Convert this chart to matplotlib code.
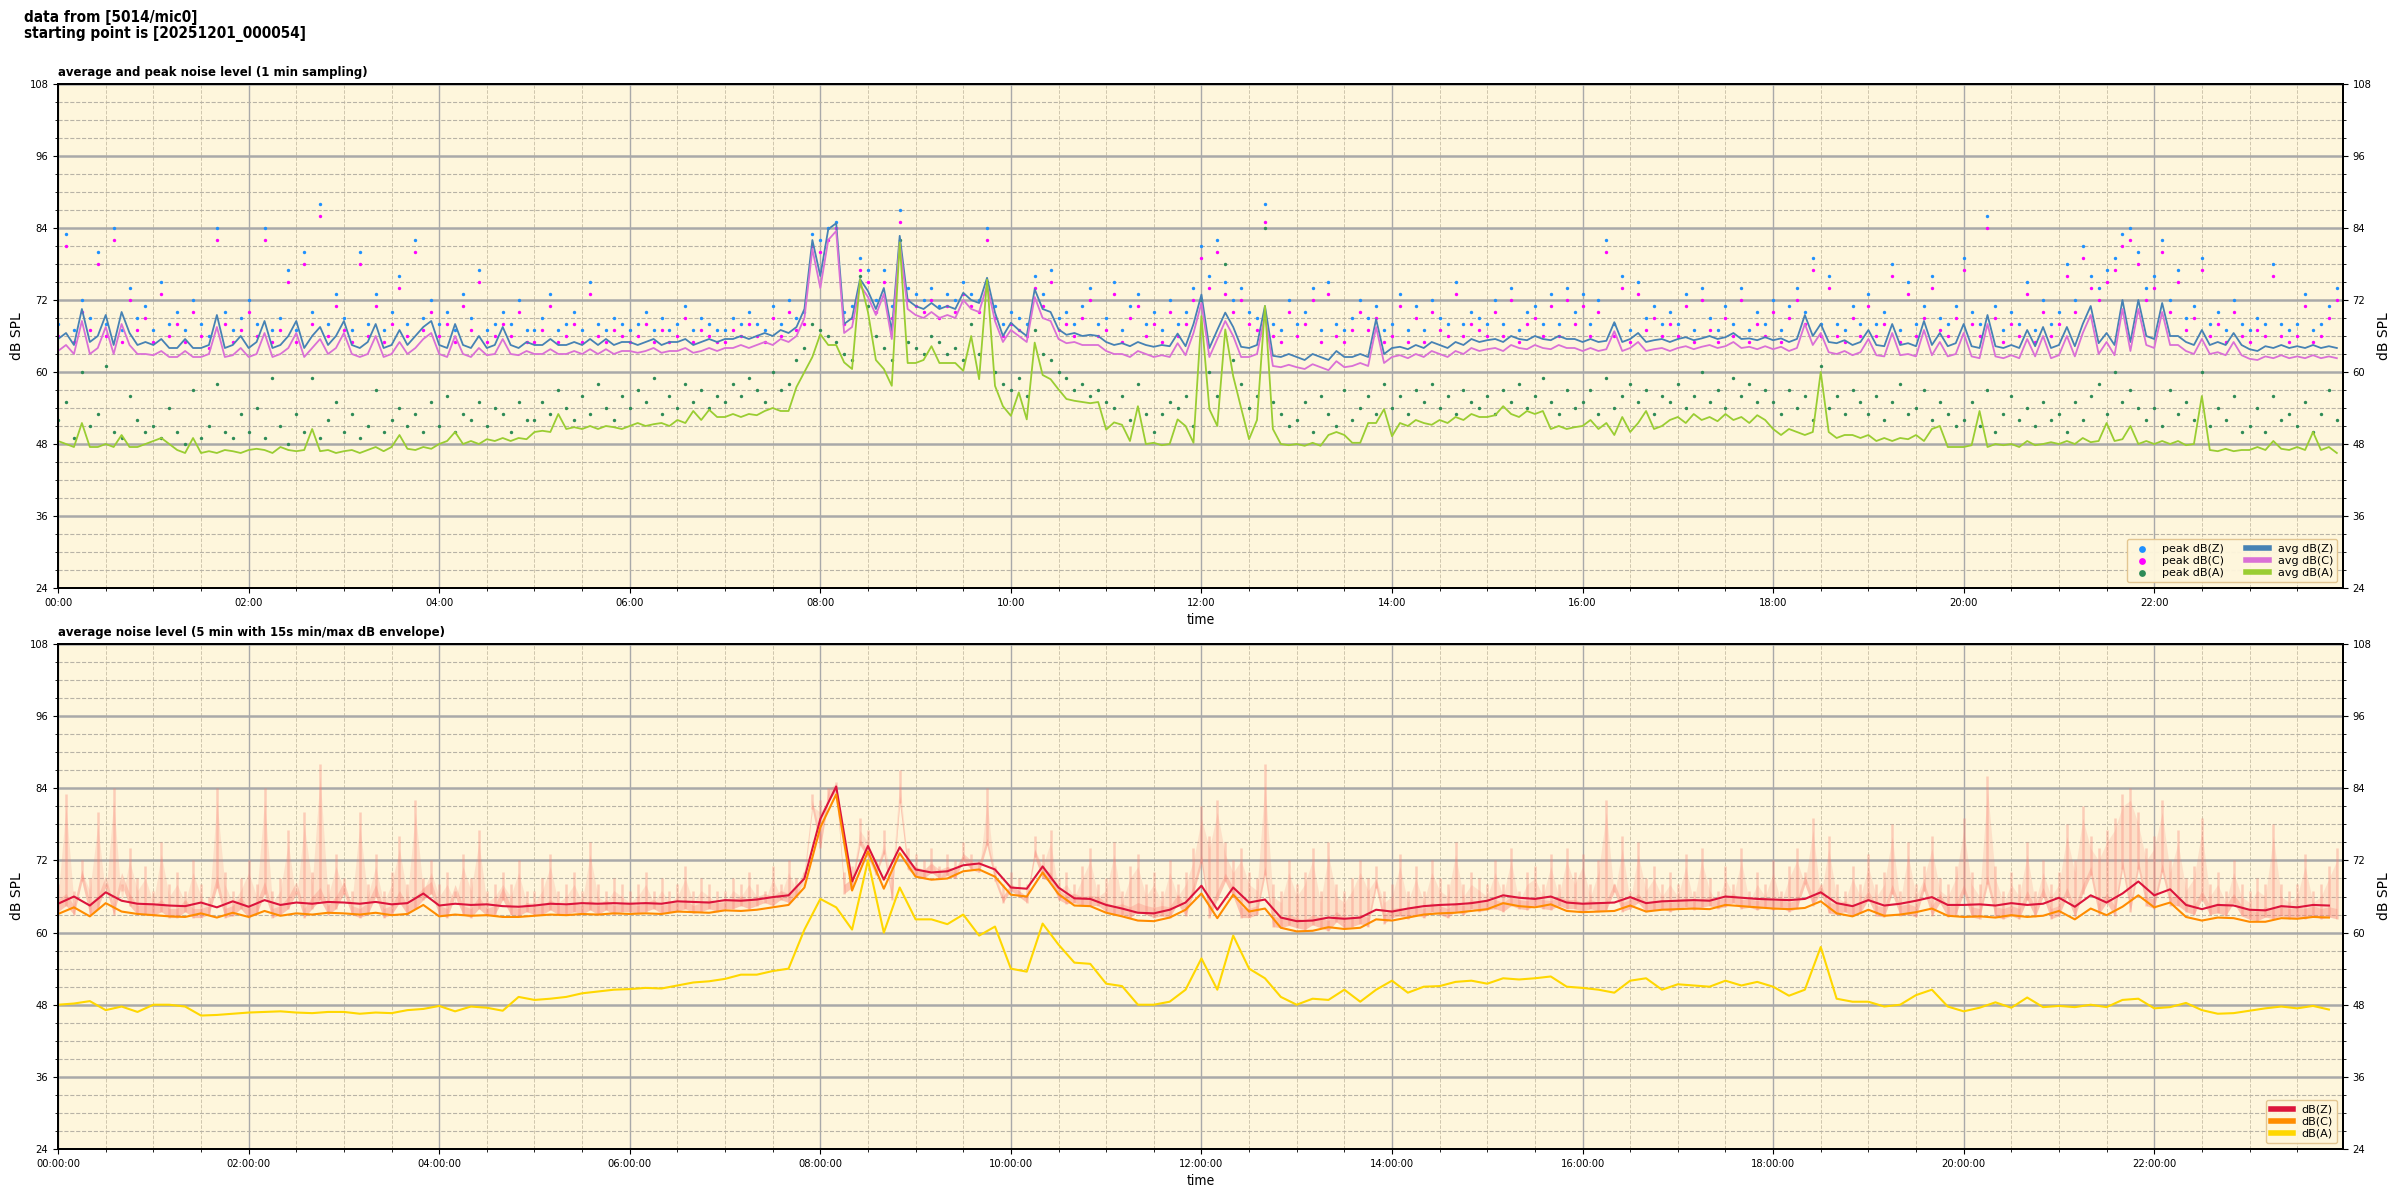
import numpy as np
import matplotlib
matplotlib.use("Agg")
import matplotlib.pyplot as plt
from matplotlib import font_manager as fm
from matplotlib.ticker import MultipleLocator, FuncFormatter

# narrow face for titles and ticks: use whatever narrow font is installed
_fonts = fm.fontManager.ttflist
if any(f.name == "DejaVu Sans" and f.stretch == "condensed" for f in _fonts):
    plt.rcParams["font.family"] = ["DejaVu Sans"]
    plt.rcParams["font.stretch"] = "condensed"
    SUPTITLE_SIZE, TITLE_SIZE = 11.0, 9.4
elif any(f.name == "Liberation Sans Narrow" for f in _fonts):
    plt.rcParams["font.family"] = ["Liberation Sans Narrow", "DejaVu Sans"]
    SUPTITLE_SIZE, TITLE_SIZE = 12.0, 10.0
else:
    plt.rcParams["font.family"] = ["Liberation Sans", "DejaVu Sans"]
    SUPTITLE_SIZE, TITLE_SIZE = 10.0, 8.5

# --- top panel, values read every 5 min (one row per hour) ---
avg_z = [
    65.5, 66.5, 64.5, 70.5, 65.0, 66.0, 69.5, 64.5, 70.0, 66.5, 64.5, 65.0,
    64.5, 65.5, 64.0, 64.0, 65.5, 64.0, 64.0, 64.5, 69.5, 64.0, 64.5, 66.0,
    64.0, 65.0, 68.5, 64.0, 64.5, 66.0, 68.5, 64.0, 66.0, 67.5, 64.5, 66.0,
    68.5, 64.5, 64.0, 65.0, 68.0, 64.0, 64.5, 67.0, 64.5, 66.0, 67.5, 68.5,
    64.5, 64.0, 68.0, 64.5, 64.0, 66.0, 64.0, 64.5, 67.5, 64.5, 64.0, 65.0,
    64.5, 64.5, 65.5, 64.5, 64.5, 65.0, 64.5, 65.5, 64.5, 65.5, 64.5, 65.0,
    65.0, 64.5, 65.0, 65.5, 64.5, 65.0, 65.0, 65.5, 64.5, 65.0, 65.5, 65.0,
    65.5, 65.5, 66.0, 65.5, 66.0, 66.5, 66.0, 67.0, 66.5, 67.5, 70.5, 82.0,
    76.0, 83.8, 84.8, 68.0, 69.0, 75.5, 73.5, 70.5, 74.0, 66.8, 82.7, 72.0,
    71.0, 70.5, 71.5, 70.5, 71.0, 70.5, 73.2, 72.0, 71.5, 75.7, 69.9, 66.0,
    68.2, 67.0, 66.0, 73.8, 70.5, 70.0, 67.1, 66.2, 66.5, 66.0, 66.2, 66.0,
    65.0, 64.5, 64.8, 64.3, 65.0, 64.5, 64.2, 64.5, 64.3, 66.4, 64.3, 68.0,
    72.9, 64.0, 67.0, 69.9, 67.5, 64.2, 64.0, 64.5, 71.0, 62.7, 62.5, 63.0,
    62.5, 62.0, 63.0, 62.5, 62.0, 63.5, 62.5, 62.5, 63.0, 62.5, 68.8, 63.0,
    64.0, 64.2, 63.8, 64.5, 64.0, 65.0, 64.5, 64.0, 65.0, 64.5, 65.5, 65.0,
    65.3, 65.5, 65.0, 66.0, 65.5, 65.3, 66.0, 65.5, 65.3, 66.0, 65.5, 65.5,
    65.0, 65.5, 65.0, 65.2, 68.3, 65.0, 65.5, 66.5, 65.0, 65.3, 65.5, 65.0,
    65.5, 65.8, 65.3, 65.6, 66.0, 65.5, 65.8, 66.5, 65.5, 65.6, 65.3, 65.8,
    65.3, 65.6, 65.0, 65.5, 69.5, 66.0, 68.0, 65.0, 64.8, 65.3, 64.5, 65.0,
    67.0, 64.5, 64.3, 68.0, 64.5, 64.8, 64.3, 68.5, 64.5, 66.5, 64.3, 64.8,
    68.0, 64.3, 64.0, 69.5, 64.3, 64.0, 64.5, 64.0, 67.0, 64.3, 67.5, 64.0,
    64.5, 67.5, 64.3, 68.0, 71.0, 64.8, 66.5, 64.5, 72.0, 65.0, 72.0, 66.0,
    65.5, 71.5, 66.0, 66.0, 65.0, 64.5, 67.0, 64.5, 65.0, 64.5, 66.5, 64.5,
    63.8, 63.5, 64.3, 64.0, 64.5, 64.0, 64.3, 64.0, 64.5, 64.0, 64.3, 64.0,
]
avg_c = [
    63.5, 64.5, 63.0, 68.5, 63.0, 64.0, 67.5, 63.0, 68.0, 64.5, 63.0, 63.0,
    62.8, 63.5, 62.5, 62.5, 63.5, 62.5, 62.5, 63.0, 67.5, 62.5, 62.8, 64.0,
    62.5, 63.0, 66.5, 62.5, 63.0, 64.0, 66.5, 62.5, 64.0, 65.5, 63.0, 64.0,
    66.5, 63.0, 62.5, 63.0, 66.0, 62.5, 63.0, 65.0, 63.0, 64.0, 65.5, 66.5,
    63.0, 62.5, 66.0, 63.0, 62.5, 64.0, 62.8, 63.0, 65.5, 63.0, 62.8, 63.5,
    63.0, 63.0, 63.8, 63.0, 63.0, 63.5, 63.0, 63.8, 63.0, 63.8, 63.0, 63.5,
    63.5, 63.2, 63.5, 64.0, 63.2, 63.5, 63.5, 64.0, 63.2, 63.5, 64.0, 63.5,
    64.0, 64.0, 64.5, 64.0, 64.5, 65.0, 64.5, 65.5, 65.0, 66.0, 69.0, 80.5,
    74.0, 82.0, 83.5, 66.5, 67.5, 74.5, 72.5, 69.5, 73.0, 65.5, 81.5, 70.5,
    69.5, 69.0, 70.0, 69.0, 69.5, 69.0, 72.0, 70.5, 70.0, 74.5, 68.5, 65.0,
    67.0, 66.0, 65.0, 72.5, 69.0, 68.5, 65.5, 64.8, 65.0, 64.5, 64.5, 64.5,
    63.5, 63.0, 63.0, 62.5, 63.5, 63.0, 62.5, 62.8, 62.5, 64.8, 62.8, 66.5,
    71.5, 62.5, 65.5, 68.5, 66.0, 62.5, 62.5, 63.0, 69.5, 61.0, 60.8, 61.2,
    60.8, 60.5, 61.3, 60.8, 60.3, 61.8, 60.8, 61.0, 61.5, 61.0, 67.5, 61.5,
    62.5, 62.8, 62.3, 63.0, 62.5, 63.5, 63.0, 62.5, 63.5, 63.0, 64.0, 63.5,
    63.8, 64.0, 63.5, 64.5, 64.0, 63.8, 64.5, 64.0, 63.8, 64.5, 64.0, 64.0,
    63.5, 64.0, 63.5, 63.8, 66.8, 63.5, 64.0, 65.0, 63.5, 63.8, 64.0, 63.5,
    64.0, 64.3, 63.8, 64.2, 64.5, 64.0, 64.3, 65.0, 64.0, 64.2, 63.8, 64.3,
    63.8, 64.2, 63.5, 64.0, 68.0, 64.5, 66.5, 63.3, 63.0, 63.5, 62.8, 63.3,
    65.5, 62.8, 62.6, 66.5, 62.8, 63.0, 62.6, 67.0, 62.8, 65.0, 62.6, 63.0,
    66.5, 62.6, 62.3, 68.0, 62.6, 62.3, 62.8, 62.3, 65.5, 62.6, 66.0, 62.3,
    62.8, 66.0, 62.6, 66.5, 69.5, 63.0, 65.0, 62.8, 70.5, 63.5, 70.5, 64.5,
    64.0, 70.0, 64.5, 64.5, 63.5, 63.0, 65.5, 63.0, 63.3, 62.8, 65.0, 62.8,
    62.2, 62.0, 62.6, 62.3, 62.8, 62.3, 62.6, 62.3, 62.8, 62.3, 62.6, 62.3,
]
avg_a = [
    48.5, 48.0, 47.5, 51.5, 47.5, 47.5, 48.0, 47.5, 49.5, 47.5, 47.5, 48.0,
    48.5, 49.0, 48.0, 47.0, 46.5, 49.0, 46.5, 46.8, 46.5, 47.0, 46.8, 46.5,
    47.0, 47.2, 47.0, 46.5, 47.5, 47.0, 46.8, 47.0, 50.5, 46.8, 47.0, 46.5,
    46.8, 47.0, 46.5, 47.0, 47.5, 46.8, 47.5, 49.5, 47.2, 47.0, 47.5, 47.2,
    48.0, 48.5, 50.0, 48.0, 48.5, 48.0, 48.8, 48.5, 49.0, 48.5, 49.0, 48.8,
    50.0, 50.2, 50.0, 53.0, 50.5, 50.8, 50.5, 51.0, 50.5, 51.0, 50.8, 50.5,
    51.0, 51.5, 51.0, 51.3, 51.5, 51.0, 52.0, 51.5, 53.5, 52.0, 53.7, 52.5,
    52.5, 53.0, 52.5, 53.0, 52.8, 53.5, 54.0, 53.5, 53.5, 57.5, 60.0, 62.5,
    66.3, 64.5, 64.5, 61.6, 60.5, 75.4, 70.0, 62.0, 60.5, 57.7, 81.6, 61.5,
    61.5, 62.0, 64.3, 61.5, 61.5, 61.5, 60.2, 66.0, 58.8, 75.4, 57.7, 54.3,
    52.7, 56.6, 52.1, 64.9, 59.5, 58.8, 57.1, 55.5, 55.2, 55.0, 54.8, 55.0,
    50.4, 51.6, 51.2, 48.5, 54.3, 48.0, 48.2, 47.8, 48.0, 52.1, 51.0, 48.2,
    69.3, 53.8, 51.0, 67.1, 59.3, 54.0, 48.8, 52.0, 71.0, 50.5, 48.0, 47.8,
    48.0, 47.7, 48.2, 47.7, 49.5, 50.0, 49.5, 48.2, 48.2, 51.5, 51.5, 53.8,
    49.3, 51.5, 51.0, 52.0, 51.5, 51.2, 52.0, 51.5, 52.5, 52.0, 53.0, 52.5,
    52.5, 52.8, 54.3, 53.0, 52.5, 53.5, 53.0, 53.5, 50.5, 51.0, 50.5, 50.8,
    51.0, 52.0, 50.5, 51.5, 49.5, 52.5, 50.0, 51.5, 53.5, 50.5, 51.0, 52.0,
    52.5, 51.5, 53.0, 52.0, 52.5, 51.8, 53.0, 52.0, 52.5, 51.5, 52.8, 52.0,
    50.5, 49.5, 50.5, 50.0, 49.5, 50.0, 60.0, 50.0, 49.0, 49.5, 49.5, 49.0,
    49.5, 48.5, 49.0, 48.5, 49.0, 48.8, 49.5, 48.5, 50.5, 51.0, 47.5, 47.5,
    47.5, 47.8, 53.5, 47.5, 48.0, 47.8, 48.0, 47.5, 48.5, 47.8, 48.0, 48.3,
    48.0, 48.5, 48.0, 49.0, 48.3, 48.5, 51.5, 48.5, 48.8, 51.0, 48.0, 48.5,
    48.0, 48.5, 48.0, 48.5, 47.8, 48.0, 56.0, 47.0, 46.8, 47.2, 46.8, 47.0,
    47.0, 47.5, 47.0, 48.5, 47.2, 47.0, 47.5, 47.0, 50.0, 47.0, 47.5, 46.5,
]
peak_z = [
    68, 83, 67, 72, 69, 80, 68, 84, 67, 74, 69, 71,
    67, 75, 68, 70, 67, 72, 68, 66, 84, 70, 67, 69,
    72, 68, 84, 67, 69, 77, 67, 80, 70, 88, 68, 73,
    69, 67, 80, 68, 73, 67, 70, 76, 68, 82, 69, 72,
    68, 70, 67, 73, 69, 77, 67, 68, 70, 68, 72, 67,
    67, 69, 73, 67, 68, 70, 67, 75, 68, 67, 69, 68,
    67, 68, 70, 67, 69, 67, 68, 71, 67, 69, 68, 67,
    67, 69, 68, 70, 68, 67, 71, 68, 72, 69, 70, 83,
    82, 84, 85, 70, 71, 79, 77, 72, 77, 71, 87, 74,
    73, 72, 74, 71, 73, 72, 75, 73, 72, 84, 71, 68,
    70, 69, 68, 76, 73, 77, 69, 70, 68, 71, 74, 68,
    69, 75, 67, 71, 73, 68, 70, 67, 72, 68, 70, 74,
    81, 76, 82, 75, 72, 74, 70, 69, 88, 68, 67, 72,
    68, 70, 74, 67, 75, 68, 67, 69, 72, 69, 71, 67,
    68, 73, 67, 71, 67, 72, 69, 68, 75, 68, 70, 69,
    68, 72, 68, 74, 67, 70, 71, 68, 73, 68, 74, 70,
    73, 68, 72, 82, 68, 76, 67, 75, 69, 71, 68, 70,
    68, 73, 67, 74, 69, 67, 71, 68, 74, 67, 70, 68,
    72, 67, 71, 74, 70, 79, 68, 76, 68, 67, 71, 68,
    73, 68, 70, 78, 67, 75, 68, 71, 76, 69, 68, 71,
    79, 70, 68, 86, 71, 67, 70, 68, 75, 67, 72, 68,
    70, 78, 72, 81, 76, 74, 77, 79, 83, 84, 80, 74,
    76, 82, 72, 77, 69, 71, 79, 68, 70, 67, 72, 68,
    67, 69, 68, 78, 68, 67, 68, 73, 67, 68, 71, 74,
]
peak_c = [
    66, 81, 65, 70, 67, 78, 66, 82, 65, 72, 67, 69,
    65, 73, 66, 68, 65, 70, 66, 64, 82, 68, 65, 67,
    70, 66, 82, 65, 67, 75, 65, 78, 68, 86, 66, 71,
    67, 65, 78, 66, 71, 65, 68, 74, 66, 80, 67, 70,
    66, 68, 65, 71, 67, 75, 65, 66, 68, 66, 70, 65,
    65, 67, 71, 65, 66, 68, 65, 73, 66, 65, 67, 66,
    65, 66, 68, 65, 67, 65, 66, 69, 65, 67, 66, 65,
    65, 67, 66, 68, 66, 65, 69, 66, 70, 67, 68, 81,
    80, 82, 84, 68, 69, 77, 75, 70, 75, 69, 85, 72,
    71, 70, 72, 69, 71, 70, 73, 71, 70, 82, 69, 66,
    68, 67, 66, 74, 71, 75, 67, 68, 66, 69, 72, 66,
    67, 73, 65, 69, 71, 66, 68, 65, 70, 66, 68, 72,
    79, 74, 80, 73, 70, 72, 68, 67, 85, 66, 65, 70,
    66, 68, 72, 65, 73, 66, 65, 67, 70, 67, 69, 65,
    66, 71, 65, 69, 65, 70, 67, 66, 73, 66, 68, 67,
    66, 70, 66, 72, 65, 68, 69, 66, 71, 66, 72, 68,
    71, 66, 70, 80, 66, 74, 65, 73, 67, 69, 66, 68,
    66, 71, 65, 72, 67, 65, 69, 66, 72, 65, 68, 66,
    70, 65, 69, 72, 68, 77, 66, 74, 66, 65, 69, 66,
    71, 66, 68, 76, 65, 73, 66, 69, 74, 67, 66, 69,
    77, 68, 66, 84, 69, 65, 68, 66, 73, 65, 70, 66,
    68, 76, 70, 79, 74, 72, 75, 77, 81, 82, 78, 72,
    74, 80, 70, 75, 67, 69, 77, 66, 68, 65, 70, 66,
    65, 67, 66, 76, 66, 65, 66, 71, 65, 66, 69, 72,
]
peak_a = [
    52, 55, 49, 60, 51, 53, 61, 50, 49, 56, 52, 50,
    51, 49, 54, 50, 48, 57, 49, 51, 58, 50, 49, 53,
    50, 54, 49, 59, 51, 48, 53, 50, 59, 49, 52, 55,
    50, 53, 49, 51, 57, 50, 52, 54, 51, 53, 50, 55,
    51, 56, 50, 53, 52, 55, 51, 54, 53, 50, 55, 52,
    52, 55, 53, 57, 54, 52, 56, 53, 58, 54, 52, 56,
    54, 57, 55, 59, 53, 56, 54, 58, 55, 57, 54, 56,
    55, 58, 56, 59, 57, 55, 60, 57, 58, 62, 64, 68,
    67, 66, 65, 63, 62, 76, 71, 66, 64, 62, 82, 65,
    64, 63, 66, 65, 63, 64, 62, 68, 63, 75, 60, 58,
    57, 59, 56, 67, 63, 62, 60, 59, 57, 58, 56, 57,
    55, 54, 56, 52, 58, 53, 50, 53, 55, 54, 56, 51,
    72, 60, 56, 78, 62, 58, 54, 56, 84, 55, 53, 51,
    52, 55, 50, 56, 53, 51, 57, 52, 54, 56, 53, 58,
    54, 56, 53, 57, 55, 58, 54, 56, 53, 57, 55, 54,
    56, 53, 57, 55, 58, 54, 56, 59, 55, 53, 57, 54,
    55, 57, 53, 59, 54, 56, 58, 55, 57, 53, 56, 55,
    58, 54, 56, 60, 55, 57, 54, 59, 56, 58, 55, 57,
    55, 53, 57, 54, 56, 52, 61, 54, 56, 53, 57, 55,
    53, 56, 52, 55, 58, 53, 54, 57, 52, 55, 53, 51,
    52, 55, 51, 57, 50, 53, 56, 52, 54, 51, 55, 52,
    53, 50, 55, 52, 56, 58, 53, 60, 55, 57, 54, 52,
    54, 51, 57, 53, 55, 52, 60, 51, 54, 52, 56, 50,
    51, 54, 50, 56, 52, 53, 51, 55, 50, 53, 57, 52,
]

# --- bottom panel, 5 min averages read every 10 min ---
avg5_z = [
    64.8, 66.0, 64.5, 66.7, 65.3, 64.8,
    64.7, 64.5, 64.4, 65.0, 64.2, 65.2,
    64.3, 65.4, 64.6, 65.0, 64.8, 65.1,
    65.0, 64.8, 65.1, 64.7, 64.9, 66.5,
    64.5, 64.8, 64.6, 64.7, 64.4, 64.3,
    64.5, 64.8, 64.7, 64.9, 64.8, 64.9,
    64.8, 64.9, 64.8, 65.2, 65.1, 65.0,
    65.4, 65.3, 65.5, 65.9, 66.2, 69.0,
    78.9, 84.3, 68.5, 74.4, 68.8, 74.2,
    70.5, 70.0, 70.2, 71.2, 71.5, 70.5,
    67.5, 67.3, 71.0, 67.5, 65.7, 65.6,
    64.6, 64.0, 63.3, 63.2, 63.8, 65.0,
    67.8, 63.8, 67.5, 65.0, 65.5, 62.5,
    61.9, 62.0, 62.5, 62.3, 62.5, 63.8,
    63.5, 64.0, 64.4, 64.6, 64.7, 64.9,
    65.3, 66.2, 65.8, 65.6, 66.0, 65.0,
    64.8, 64.9, 65.0, 65.9, 64.9, 65.2,
    65.3, 65.4, 65.3, 66.0, 65.8, 65.6,
    65.5, 65.4, 65.6, 66.7, 64.9, 64.4,
    65.4, 64.5, 64.8, 65.3, 65.9, 64.6,
    64.6, 64.7, 64.5, 64.9, 64.6, 64.8,
    65.8, 64.3, 66.2, 65.0, 66.5, 68.5,
    66.2, 67.2, 64.6, 63.9, 64.6, 64.5,
    63.8, 63.7, 64.4, 64.2, 64.6, 64.5,
]
avg5_c = [
    63.1, 64.2, 62.7, 64.9, 63.5, 63.1,
    62.9, 62.7, 62.6, 63.2, 62.5, 63.3,
    62.6, 63.6, 62.8, 63.2, 63.0, 63.3,
    63.2, 63.0, 63.3, 62.9, 63.1, 64.6,
    62.7, 63.0, 62.8, 62.9, 62.6, 62.6,
    62.8, 63.0, 62.9, 63.1, 63.0, 63.2,
    63.1, 63.2, 63.1, 63.5, 63.4, 63.3,
    63.7, 63.6, 63.8, 64.2, 64.6, 67.5,
    77.5, 83.0, 67.0, 73.5, 67.3, 73.2,
    69.3, 68.8, 69.0, 70.2, 70.5, 69.3,
    66.3, 66.0, 70.0, 66.4, 64.5, 64.4,
    63.3, 62.7, 62.0, 61.9, 62.5, 63.8,
    66.5, 62.4, 66.3, 63.5, 64.0, 60.8,
    60.2, 60.3, 60.9, 60.6, 60.8, 62.2,
    62.0, 62.5, 63.0, 63.2, 63.3, 63.6,
    63.9, 64.9, 64.4, 64.2, 64.7, 63.6,
    63.4, 63.5, 63.6, 64.5, 63.5, 63.8,
    63.9, 64.0, 63.9, 64.6, 64.4, 64.2,
    64.0, 63.9, 64.1, 65.2, 63.2, 62.7,
    63.8, 62.8, 63.0, 63.4, 64.0, 62.8,
    62.6, 62.7, 62.5, 62.9, 62.6, 62.8,
    63.6, 62.2, 64.0, 62.9, 64.3, 66.2,
    64.2, 65.0, 62.6, 62.0, 62.5, 62.4,
    61.8, 61.8, 62.4, 62.3, 62.6, 62.5,
]
avg5_a = [
    48.0, 48.2, 48.6, 47.1, 47.7, 46.8,
    48.0, 48.0, 47.7, 46.2, 46.3, 46.5,
    46.7, 46.8, 46.9, 46.7, 46.6, 46.8,
    46.8, 46.5, 46.7, 46.6, 47.1, 47.3,
    47.8, 46.9, 47.7, 47.5, 47.0, 49.3,
    48.8, 49.0, 49.3, 49.9, 50.2, 50.5,
    50.6, 50.8, 50.7, 51.2, 51.7, 51.9,
    52.3, 53.0, 53.0, 53.6, 54.0, 60.5,
    65.6, 64.2, 60.5, 72.0, 60.0, 67.5,
    62.2, 62.2, 61.4, 63.0, 59.5, 61.0,
    54.0, 53.5, 61.5, 58.0, 55.0, 54.8,
    51.5, 51.1, 48.0, 48.0, 48.5, 50.5,
    55.7, 50.5, 59.5, 54.0, 52.4, 49.3,
    48.0, 49.0, 48.8, 50.5, 48.5, 50.5,
    52.0, 50.0, 51.0, 51.1, 51.8, 52.0,
    51.5, 52.4, 52.2, 52.4, 52.7, 51.0,
    50.8, 50.5, 50.0, 52.0, 52.4, 50.5,
    51.4, 51.2, 51.0, 52.0, 51.2, 51.8,
    51.0, 49.5, 50.5, 57.6, 49.0, 48.5,
    48.5, 47.7, 48.0, 49.6, 50.5, 47.7,
    46.9, 47.5, 48.4, 47.5, 49.2, 47.6,
    47.8, 47.6, 48.0, 47.6, 48.8, 49.0,
    47.4, 47.6, 48.3, 47.1, 46.5, 46.6,
    47.0, 47.4, 47.7, 47.4, 47.8, 47.2,
]

hours_5 = np.arange(len(avg_z)) * 5 / 60.0
hours_10 = np.arange(len(avg5_z)) * 10 / 60.0

BG = "#fef6dc"
LEGEND_EDGE = "#e2c48e"


def fmt_hm(x, pos):
    m = int(round(x * 60))
    return "%02d:%02d" % (m // 60, m % 60)


def fmt_hms(x, pos):
    m = int(round(x * 60))
    return "%02d:%02d:00" % (m // 60, m % 60)


def style_axes(ax, formatter):
    ax.set_facecolor(BG)
    ax.set_axisbelow(True)
    ax.set_xlim(0, 23.98)
    ax.set_ylim(24, 108)
    ax.xaxis.set_major_locator(MultipleLocator(2))
    ax.xaxis.set_minor_locator(MultipleLocator(0.5))
    ax.yaxis.set_major_locator(MultipleLocator(12))
    ax.yaxis.set_minor_locator(MultipleLocator(3))
    ax.xaxis.set_major_formatter(FuncFormatter(formatter))
    ax.xaxis.grid(True, which="major", color="#a9a9a9", lw=1.0)
    ax.yaxis.grid(True, which="major", color="#a9a9a9", lw=1.8)
    ax.xaxis.grid(True, which="minor", color="#cfc6ad", ls="--", lw=0.7)
    ax.yaxis.grid(True, which="minor", color="#b8b3a6", ls="--", lw=0.8)
    ax.tick_params(labelsize=8)
    for s in ax.spines.values():
        s.set_linewidth(1.4)
    ax.set_xlabel("time", fontsize=10)
    ax.set_ylabel("dB SPL", family="DejaVu Sans", stretch="normal", fontsize=10)

    # right hand axis only repeats the dB scale
    axr = ax.twinx()
    axr.set_ylim(24, 108)
    axr.yaxis.set_major_locator(MultipleLocator(12))
    axr.yaxis.set_minor_locator(MultipleLocator(3))
    axr.tick_params(labelsize=8)
    axr.set_ylabel("dB SPL", family="DejaVu Sans", stretch="normal", fontsize=10)
    for s in axr.spines.values():
        s.set_linewidth(1.4)
    return axr


LEGEND_FONT = {"family": "DejaVu Sans", "stretch": "normal", "size": 8}

fig = plt.figure(figsize=(24, 12), dpi=100)
ax1 = fig.add_axes([0.0242, 0.51, 0.9520, 0.42])
ax2 = fig.add_axes([0.0242, 0.0425, 0.9520, 0.4208])

fig.text(0.0098, 0.992, "data from [5014/mic0]\nstarting point is [20251201_000054]",
         ha="left", va="top", fontsize=SUPTITLE_SIZE, fontweight="bold",
         linespacing=1.1)

# top panel: 1 min average and peak
style_axes(ax1, fmt_hm)
ax1.set_title("average and peak noise level (1 min sampling)", loc="left",
              fontsize=TITLE_SIZE, fontweight="bold", pad=6)
ax1.scatter(hours_5, peak_z, s=6, color="dodgerblue", lw=0, label="peak dB(Z)", zorder=3)
ax1.scatter(hours_5, peak_c, s=6, color="magenta", lw=0, label="peak dB(C)", zorder=3)
ax1.scatter(hours_5, peak_a, s=6, color="seagreen", lw=0, label="peak dB(A)", zorder=3)
ax1.plot(hours_5, avg_z, color="steelblue", lw=1.3, label="avg dB(Z)", zorder=4)
ax1.plot(hours_5, avg_c, color="orchid", lw=1.3, label="avg dB(C)", zorder=4)
ax1.plot(hours_5, avg_a, color="yellowgreen", lw=1.3, label="avg dB(A)", zorder=4)
leg1 = ax1.legend(loc="lower right", ncol=2, markerscale=2.0, prop=LEGEND_FONT,
                  facecolor=BG, edgecolor=LEGEND_EDGE, framealpha=0.95,
                  columnspacing=2.0, handletextpad=0.8, labelspacing=0.2)
for line in leg1.get_lines():
    line.set_linewidth(4)

# bottom panel: 5 min average with 15 s min/max envelope
style_axes(ax2, fmt_hms)
ax2.set_title("average noise level (5 min with 15s min/max dB envelope)", loc="left",
              fontsize=TITLE_SIZE, fontweight="bold", pad=6)
ax2.fill_between(hours_5, avg_c, peak_c, color="salmon", alpha=0.18, lw=0, zorder=2)
ax2.fill_between(hours_5, avg_c, avg_z, color="salmon", alpha=0.3, lw=0, zorder=2)
ax2.vlines(hours_5, avg_c, peak_z, color="salmon", alpha=0.35, lw=1.8, zorder=2)
ax2.plot(hours_10, avg5_z, color="crimson", lw=1.5, label="dB(Z)", zorder=4)
ax2.plot(hours_10, avg5_c, color="darkorange", lw=1.5, label="dB(C)", zorder=4)
ax2.plot(hours_10, avg5_a, color="gold", lw=1.5, label="dB(A)", zorder=4)
leg2 = ax2.legend(loc="lower right", prop=LEGEND_FONT,
                  facecolor=BG, edgecolor=LEGEND_EDGE, framealpha=0.95,
                  labelspacing=0.2)
for line in leg2.get_lines():
    line.set_linewidth(4)

fig.savefig("out.png", dpi=100)
